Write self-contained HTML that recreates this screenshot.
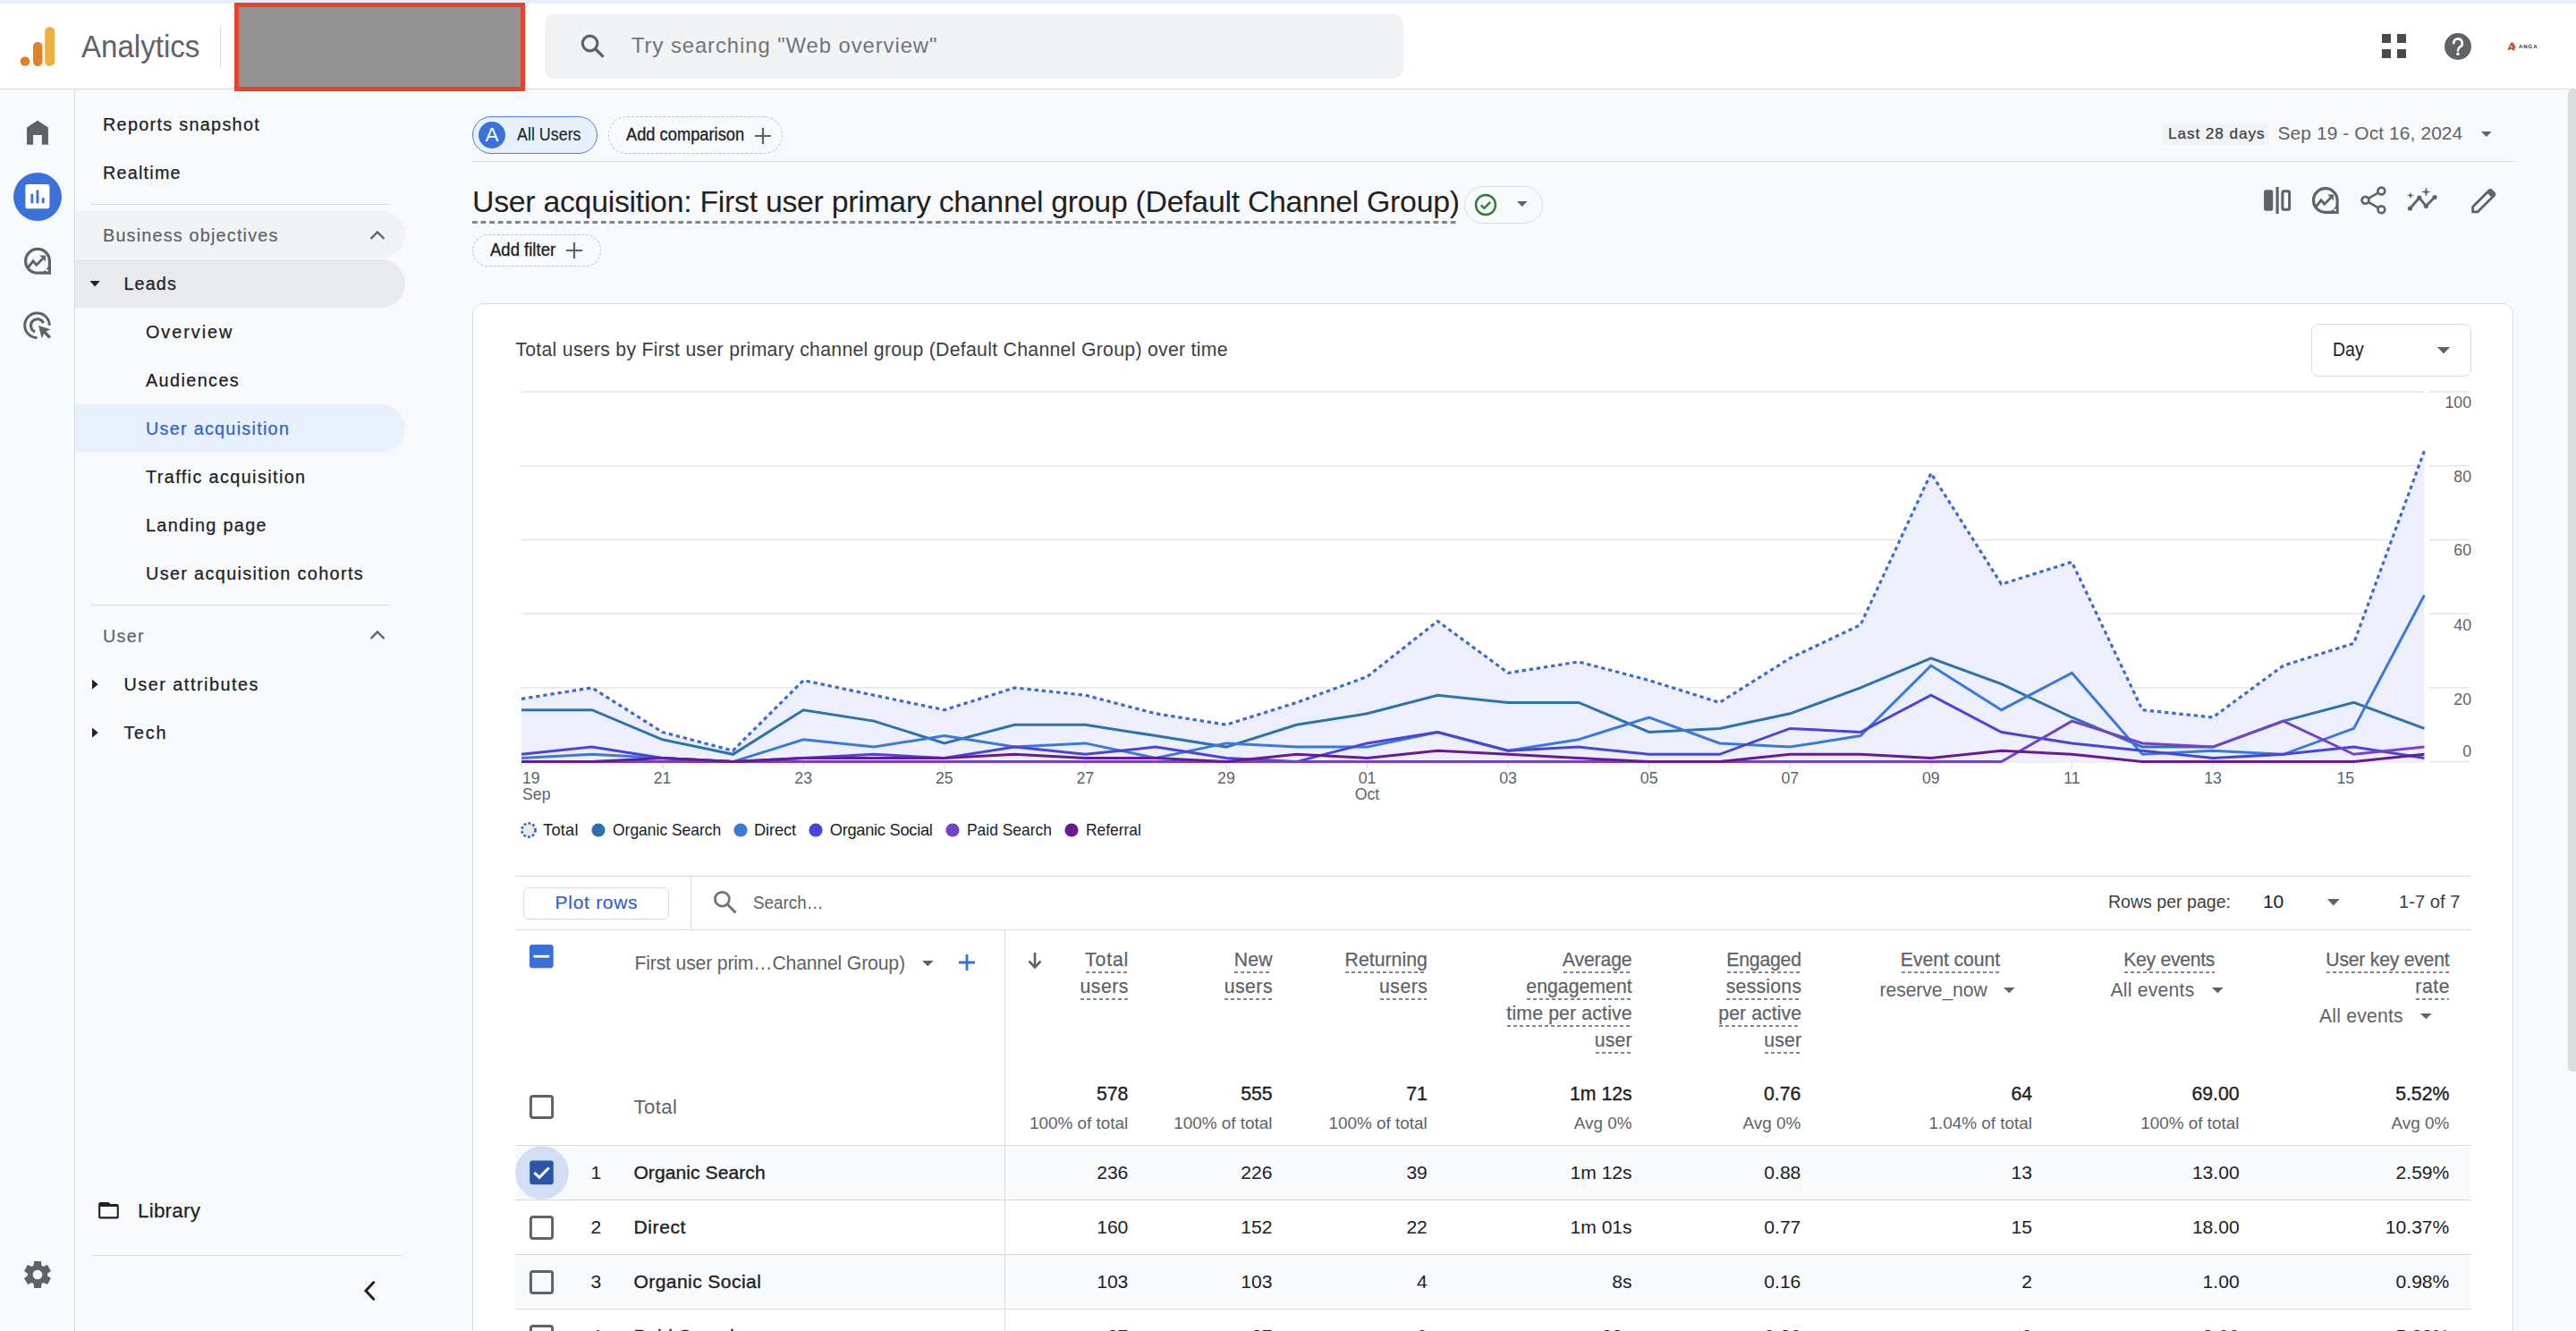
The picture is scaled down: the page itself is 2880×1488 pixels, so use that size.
<!DOCTYPE html>
<html><head><meta charset="utf-8"><title>Analytics</title>
<style>
html,body{margin:0;padding:0;width:2880px;height:1488px;overflow:hidden;background:#f8f9fa;font-family:"Liberation Sans",sans-serif;}
.t{position:absolute;white-space:pre;line-height:1;}
.a{position:absolute;display:block;}
</style></head><body>
<div class="a" style="left:0px;top:0px;width:2880px;height:99px;background:#ffffff;"></div>
<div class="a" style="left:0px;top:0px;width:2880px;height:4px;background:#e8effb;"></div>
<div class="a" style="left:0px;top:99px;width:2880px;height:1px;background:#dadce0;"></div>
<svg class="a" style="left:20px;top:26px;" width="48" height="52" viewBox="0 0 48 52">
<circle cx="8" cy="42.5" r="5.3" fill="#e37f2a"/>
<rect x="17" y="20.7" width="10.4" height="27.2" rx="5.2" fill="#e07f2c"/>
<rect x="30.2" y="3.9" width="10.9" height="44" rx="5.4" fill="#edaf3e"/>
</svg>
<div class="t" style="left:91.00px;top:35.10px;font-size:34.74px;color:#5f6368;transform:scaleX(0.9524);transform-origin:0 0;">Analytics</div>
<div class="a" style="left:246px;top:28px;width:1px;height:48px;background:#dadce0;"></div>
<div class="a" style="left:262px;top:3px;width:325px;height:99px;background:#939393;box-sizing:border-box;border:5.5px solid #e5432c;"></div>
<div class="a" style="left:609px;top:16px;width:960px;height:72px;background:#f1f3f4;border-radius:10px;"></div>
<svg class="a" style="left:646px;top:35px;" width="34" height="34" viewBox="0 0 34 34"><circle cx="13.6" cy="13.5" r="8.3" fill="none" stroke="#5f6368" stroke-width="3.2"/>
<line x1="19.5" y1="19.5" x2="28.6" y2="28.6" stroke="#5f6368" stroke-width="3.4"/></svg>
<div class="t" style="left:706.00px;top:39.10px;font-size:23.84px;color:#70757a;letter-spacing:0.934px;">Try searching "Web overview"</div>
<svg class="a" style="left:2660px;top:35px;opacity:0.97" width="34" height="34" viewBox="0 0 34 34"><rect x="3" y="3" width="10" height="10" fill="#444"/><rect x="20" y="3" width="10" height="10" fill="#444"/>
<rect x="3" y="20" width="10" height="10" fill="#444"/><rect x="20" y="20" width="10" height="10" fill="#444"/></svg>
<svg class="a" style="left:2730px;top:34px;" width="36" height="36" viewBox="0 0 36 36"><circle cx="18" cy="18" r="15" fill="#5f6368"/>
<path d="M13.2 14.3a4.8 4.8 0 1 1 7.2 4.1c-1.6 1-2.4 1.7-2.4 3.6v0.6" fill="none" stroke="#fff" stroke-width="2.6" stroke-linecap="round"/>
<circle cx="18" cy="26.3" r="1.7" fill="#fff"/></svg>
<svg class="a" style="left:2800px;top:42px;" width="42" height="18" viewBox="0 0 42 18"><path fill-rule="evenodd" d="M3.4 13.5 L7.5 5.4 H9.5 L12.7 11 L11 12.3 L12.2 14.3 H9 L8 12.2 L5.5 14 Z M7.9 8.6 L6.6 11 H9.2Z" fill="#d9442e"/>
<text x="16" y="12" font-family="Liberation Sans" font-weight="700" font-size="6.1" fill="#333" textLength="20.6" lengthAdjust="spacing">ANGA</text></svg>
<div class="a" style="left:83px;top:100px;width:1px;height:1388px;background:#dadce0;"></div>
<svg class="a" style="left:26px;top:130px;" width="32" height="36" viewBox="0 0 32 36"><path d="M4 12.5 L16 4.7 L27.9 12.5 V31.7 H20.8 V21 H11.1 V31.7 H4Z" fill="#5f6368"/></svg>
<svg class="a" style="left:15px;top:193px;" width="54" height="54" viewBox="0 0 54 54"><circle cx="27" cy="27" r="27" fill="#3b72d9"/>
<rect x="13.4" y="12.9" width="27" height="27.3" rx="2.6" fill="#fff"/>
<rect x="19.4" y="23.7" width="2.8" height="10.5" fill="#3b72d9"/>
<rect x="25.5" y="19.5" width="2.9" height="14.7" fill="#3b72d9"/>
<rect x="31.8" y="28.2" width="2.9" height="6" fill="#3b72d9"/></svg>
<svg class="a" style="left:24px;top:274px;" width="36" height="36" viewBox="0 0 36 36"><path d="M18 4.4 A13.4 13.4 0 1 0 18 31.2 H31.4 V17.8 A13.4 13.4 0 0 0 18 4.4Z" fill="none" stroke="#5f6368" stroke-width="3.2"/>
<path d="M31.4 17.8 V31.2 H18 A13.4 13.4 0 0 0 31.4 17.8Z" fill="#5f6368"/>
<path d="M7.6 24.9 L13 17.8 L16.8 22.2 L23.9 15.1" fill="none" stroke="#5f6368" stroke-width="2.8"/>
<path d="M20.2 11.4 H27 V18.2Z" fill="#5f6368"/>
<circle cx="28.4" cy="28.3" r="1.4" fill="#f8f9fa"/></svg>
<svg class="a" style="left:24px;top:346px;" width="36" height="36" viewBox="0 0 36 36"><path d="M17.5 31.5 A13.8 13.8 0 1 1 31.3 17.7" fill="none" stroke="#5f6368" stroke-width="3"/>
<path d="M15.2 24.8 A7.3 7.3 0 1 1 24.5 15.2" fill="none" stroke="#5f6368" stroke-width="3"/>
<path d="M19 18 L32.5 22.2 L27.5 24.6 L33 30.3 L30.6 32.7 L25.1 27.1 L22.6 32.2Z" fill="#5f6368"/></svg>
<svg class="a" style="left:25px;top:1408px;" width="34" height="34" viewBox="0 0 34 34"><g fill="#5f6368"><circle cx="17" cy="17" r="11"/>
<path d="M13.1 2 H20.9 L21.6 8 H12.4Z"/>
<path d="M13.1 2 H20.9 L21.6 8 H12.4Z" transform="rotate(60 17 17)"/>
<path d="M13.1 2 H20.9 L21.6 8 H12.4Z" transform="rotate(120 17 17)"/>
<path d="M13.1 2 H20.9 L21.6 8 H12.4Z" transform="rotate(180 17 17)"/>
<path d="M13.1 2 H20.9 L21.6 8 H12.4Z" transform="rotate(240 17 17)"/>
<path d="M13.1 2 H20.9 L21.6 8 H12.4Z" transform="rotate(300 17 17)"/></g>
<circle cx="17" cy="17" r="5.3" fill="#f8f9fa"/></svg>
<div class="t" style="left:115.00px;top:130.00px;font-size:19.77px;color:#202124;letter-spacing:1.318px;-webkit-text-stroke:0.25px #202124;">Reports snapshot</div>
<div class="t" style="left:115.00px;top:184.20px;font-size:19.77px;color:#202124;letter-spacing:1.227px;-webkit-text-stroke:0.25px #202124;">Realtime</div>
<div class="a" style="left:102px;top:228px;width:333px;height:1px;background:#dadce0;"></div>
<div class="a" style="left:84px;top:236px;width:369px;height:53px;background:#f1f3f4;border-radius:0 27px 27px 0;"></div>
<div class="t" style="left:115.00px;top:253.90px;font-size:19.77px;color:#5f6368;letter-spacing:1.211px;-webkit-text-stroke:0.2px #5f6368;">Business objectives</div>
<svg class="a" style="left:410px;top:254px;" width="24" height="18" viewBox="0 0 24 18"><path d="M4.5 13 L12 5.5 L19.5 13" fill="none" stroke="#5f6368" stroke-width="2.4"/></svg>
<div class="a" style="left:84px;top:290px;width:369px;height:54px;background:#e8eaed;border-radius:0 27px 27px 0;"></div>
<svg class="a" style="left:98px;top:311px;" width="16" height="12" viewBox="0 0 16 12"><path d="M2.5 3 H13.7 L8.1 9.6Z" fill="#202124"/></svg>
<div class="t" style="left:138.50px;top:307.60px;font-size:19.77px;color:#202124;letter-spacing:1.107px;-webkit-text-stroke:0.25px #202124;">Leads</div>
<div class="t" style="left:163.00px;top:361.70px;font-size:19.77px;color:#202124;letter-spacing:1.987px;-webkit-text-stroke:0.25px #202124;">Overview</div>
<div class="t" style="left:163.00px;top:415.70px;font-size:19.77px;color:#202124;letter-spacing:1.422px;-webkit-text-stroke:0.25px #202124;">Audiences</div>
<div class="a" style="left:84px;top:452px;width:369px;height:54px;background:#e8f0fe;border-radius:0 27px 27px 0;"></div>
<div class="t" style="left:163.00px;top:469.80px;font-size:19.77px;color:#2f63cf;letter-spacing:1.284px;-webkit-text-stroke:0.25px #2f63cf;">User acquisition</div>
<div class="t" style="left:163.00px;top:523.70px;font-size:19.77px;color:#202124;letter-spacing:1.410px;-webkit-text-stroke:0.25px #202124;">Traffic acquisition</div>
<div class="t" style="left:163.00px;top:577.70px;font-size:19.77px;color:#202124;letter-spacing:1.334px;-webkit-text-stroke:0.25px #202124;">Landing page</div>
<div class="t" style="left:163.00px;top:631.70px;font-size:19.77px;color:#202124;letter-spacing:1.380px;-webkit-text-stroke:0.25px #202124;">User acquisition cohorts</div>
<div class="a" style="left:102px;top:676px;width:333px;height:1px;background:#dadce0;"></div>
<div class="t" style="left:115.00px;top:702.00px;font-size:19.77px;color:#5f6368;letter-spacing:1.251px;-webkit-text-stroke:0.2px #5f6368;">User</div>
<svg class="a" style="left:410px;top:701px;" width="24" height="18" viewBox="0 0 24 18"><path d="M4.5 13 L12 5.5 L19.5 13" fill="none" stroke="#5f6368" stroke-width="2.4"/></svg>
<svg class="a" style="left:98px;top:757px;" width="16" height="16" viewBox="0 0 16 16"><path d="M5 2.5 V13.7 L11.6 8.1Z" fill="#202124"/></svg>
<div class="t" style="left:138.50px;top:756.10px;font-size:19.77px;color:#202124;letter-spacing:1.525px;-webkit-text-stroke:0.25px #202124;">User attributes</div>
<svg class="a" style="left:98px;top:811px;" width="16" height="16" viewBox="0 0 16 16"><path d="M5 2.5 V13.7 L11.6 8.1Z" fill="#202124"/></svg>
<div class="t" style="left:138.50px;top:809.60px;font-size:19.77px;color:#202124;letter-spacing:1.707px;-webkit-text-stroke:0.25px #202124;">Tech</div>
<svg class="a" style="left:106px;top:1338px;" width="32" height="28" viewBox="0 0 32 28"><path fill-rule="evenodd" d="M6.1 6.1 H15.5 L17.5 8.1 H24.8 Q26.8 8.1 26.8 10.1 V22.5 Q26.8 24.5 24.8 24.5 H6.1 Q4.1 24.5 4.1 22.5 V8.1 Q4.1 6.1 6.1 6.1Z M6.2 10.9 V22.3 H24.7 V10.9Z" fill="#202124"/></svg>
<div class="t" style="left:154.00px;top:1343.00px;font-size:22.38px;color:#202124;letter-spacing:0.239px;-webkit-text-stroke:0.25px #202124;">Library</div>
<div class="a" style="left:103px;top:1403px;width:346px;height:1px;background:#dadce0;"></div>
<svg class="a" style="left:400px;top:1428px;" width="26" height="30" viewBox="0 0 26 30"><path d="M18.5 4.8 L9 15 L18.5 25.2" fill="none" stroke="#202124" stroke-width="3"/></svg>
<div class="a" style="left:528px;top:130px;width:140px;height:42px;background:#e8f0fe;box-sizing:border-box;border:1.5px solid #4a7fe0;border-radius:21px;"></div>
<svg class="a" style="left:535px;top:136px;" width="30" height="30" viewBox="0 0 30 30"><circle cx="15" cy="15" r="15" fill="#3a72d9"/></svg>
<div class="t" style="left:542.48px;top:140.00px;font-size:22.53px;color:#ffffff;">A</div>
<div class="t" style="left:578.00px;top:141.30px;font-size:19.77px;color:#202124;transform:scaleX(0.9051);transform-origin:0 0;-webkit-text-stroke:0.1px #202124;">All Users</div>
<div class="a" style="left:680px;top:130px;width:195px;height:42px;background:transparent;box-sizing:border-box;border:1.5px dashed #bdc1c6;border-radius:21px;"></div>
<div class="t" style="left:700.00px;top:141.30px;font-size:19.77px;color:#202124;transform:scaleX(0.9249);transform-origin:0 0;-webkit-text-stroke:0.3px #202124;">Add comparison</div>
<svg class="a" style="left:842px;top:141px;" width="22" height="22" viewBox="0 0 22 22"><path d="M11 2 V20 M2 11 H20" stroke="#5f6368" stroke-width="2.2"/></svg>
<div class="a" style="left:528px;top:180px;width:2283px;height:1px;background:#dadce0;"></div>
<div class="a" style="left:2417px;top:138px;width:119px;height:23.5px;background:#f1f3f4;border-radius:2px;"></div>
<div class="t" style="left:2424.00px;top:141.00px;font-size:17.15px;color:#3c4043;letter-spacing:0.939px;-webkit-text-stroke:0.25px #3c4043;">Last 28 days</div>
<div class="t" style="left:2546.50px;top:139.00px;font-size:20.93px;color:#5f6368;letter-spacing:0.102px;">Sep 19 - Oct 16, 2024</div>
<svg class="a" style="left:2770px;top:144px;" width="20" height="12" viewBox="0 0 20 12"><path d="M4 3 H15.6 L9.8 9Z" fill="#5f6368"/></svg>
<div class="t" style="left:528.00px;top:208.80px;font-size:33.87px;color:#202124;letter-spacing:-0.293px;">User acquisition: First user primary channel group (Default Channel Group)</div>
<div class="a" style="left:528px;top:247px;width:1102px;height:3px;background:transparent;background-image:linear-gradient(90deg,#80868b 0,#80868b 60%,transparent 60%);background-size:9.6px 3px;"></div>
<div class="a" style="left:1637px;top:208px;width:88px;height:42px;background:transparent;box-sizing:border-box;border:1px solid #dadce0;border-radius:21px;"></div>
<svg class="a" style="left:1647px;top:215px;" width="28" height="28" viewBox="0 0 28 28"><circle cx="14" cy="14" r="11" fill="none" stroke="#2e7d32" stroke-width="2.4"/><path d="M8.8 14.3 L12.4 17.8 L19.2 10.8" fill="none" stroke="#2e7d32" stroke-width="2.4"/></svg>
<svg class="a" style="left:1693px;top:222px;" width="18" height="12" viewBox="0 0 18 12"><path d="M3 3 H14.6 L8.8 9Z" fill="#5f6368"/></svg>
<div class="a" style="left:528px;top:262px;width:144px;height:36px;background:transparent;box-sizing:border-box;border:1.5px dashed #bdc1c6;border-radius:18px;"></div>
<div class="t" style="left:547.60px;top:270.00px;font-size:19.77px;color:#202124;transform:scaleX(0.9371);transform-origin:0 0;-webkit-text-stroke:0.3px #202124;">Add filter</div>
<svg class="a" style="left:631px;top:269px;" width="22" height="22" viewBox="0 0 22 22"><path d="M11 2 V20 M2 11 H20" stroke="#5f6368" stroke-width="2.2"/></svg>
<svg class="a" style="left:2528px;top:206px;" width="38" height="36" viewBox="0 0 38 36"><rect x="3.1" y="6.2" width="10.1" height="23.6" rx="2" fill="#5f6368"/>
<rect x="16.5" y="3" width="3.2" height="30" fill="#5f6368"/>
<rect x="23.9" y="7.7" width="7.7" height="20.6" rx="1.5" fill="none" stroke="#5f6368" stroke-width="3"/></svg>
<svg class="a" style="left:2582px;top:206px;" width="36" height="36" viewBox="0 0 36 36"><path d="M17.8 4.7 A13.3 13.3 0 1 0 17.8 31.3 H31.1 V18 A13.3 13.3 0 0 0 17.8 4.7Z" fill="none" stroke="#5f6368" stroke-width="3.2"/>
<path d="M31.1 18 V31.3 H17.8 A13.3 13.3 0 0 0 31.1 18Z" fill="#5f6368"/>
<path d="M7.6 24.9 L13 17.8 L16.8 22.2 L23.9 15.1" fill="none" stroke="#5f6368" stroke-width="2.8"/>
<path d="M20.2 11.4 H27 V18.2Z" fill="#5f6368"/>
<circle cx="28.6" cy="28.8" r="1.4" fill="#f8f9fa"/></svg>
<svg class="a" style="left:2636px;top:206px;" width="34" height="36" viewBox="0 0 34 36"><circle cx="26.4" cy="7.5" r="3.9" fill="none" stroke="#5f6368" stroke-width="2.7"/>
<circle cx="8.5" cy="17.8" r="3.9" fill="none" stroke="#5f6368" stroke-width="2.7"/>
<circle cx="26.4" cy="28.3" r="3.9" fill="none" stroke="#5f6368" stroke-width="2.7"/>
<path d="M11.8 15.8 L23 9.4 M11.8 19.8 L23 26.4" stroke="#5f6368" stroke-width="2.7"/></svg>
<svg class="a" style="left:2688px;top:206px;" width="40" height="36" viewBox="0 0 40 36"><path d="M6.5 27 L16.8 15.1 L24.4 24.3 L34 14.5" fill="none" stroke="#5f6368" stroke-width="2.8" stroke-linejoin="round"/>
<circle cx="6.5" cy="27" r="2.6" fill="#5f6368"/><circle cx="16.8" cy="15.1" r="2.6" fill="#5f6368"/><circle cx="24.4" cy="24.3" r="2.6" fill="#5f6368"/><circle cx="34" cy="14.5" r="2.6" fill="#5f6368"/>
<path d="M7 8.5 L7.9 11.6 L11 12.5 L7.9 13.4 L7 16.5 L6.1 13.4 L3 12.5 L6.1 11.6Z" fill="#5f6368"/>
<path d="M24.4 3 L25.6 7.4 L30 8.6 L25.6 9.8 L24.4 14.2 L23.2 9.8 L18.8 8.6 L23.2 7.4Z" fill="#5f6368"/></svg>
<svg class="a" style="left:2758px;top:206px;" width="36" height="36" viewBox="0 0 36 36"><path d="M6.6 30.8 V25.2 L24.6 7.2 a2.2 2.2 0 0 1 3.1 0 l2.5 2.5 a2.2 2.2 0 0 1 0 3.1 L12.2 30.8Z" fill="none" stroke="#5f6368" stroke-width="2.8" stroke-linejoin="round"/>
<path d="M22.4 9.4 L28 15 L30.8 12.2 a2 2 0 0 0 0-2.8 L27.6 6.2 a2 2 0 0 0-2.8 0Z" fill="#5f6368"/></svg>
<div class="a" style="left:2870.5px;top:100px;width:12px;height:1098px;background:#dadce0;border-radius:5px;"></div>
<div class="a" style="left:528px;top:339px;width:2282px;height:1200px;background:#ffffff;box-sizing:border-box;border:1px solid #dadce0;border-radius:12px;"></div>
<div class="t" style="left:576.30px;top:380.00px;font-size:21.22px;color:#3c4043;letter-spacing:0.298px;">Total users by First user primary channel group (Default Channel Group) over time</div>
<div class="a" style="left:2583.5px;top:361.5px;width:179px;height:59px;background:#ffffff;box-sizing:border-box;border:1px solid #dadce0;border-radius:8px;"></div>
<div class="t" style="left:2607.70px;top:380.00px;font-size:21.22px;color:#202124;transform:scaleX(0.9188);transform-origin:0 0;">Day</div>
<svg class="a" style="left:2721px;top:384px;" width="22" height="16" viewBox="0 0 22 16"><path d="M4 4 H18 L11 11.5Z" fill="#5f6368"/></svg>
<svg class="a" style="left:0;top:0" width="2880" height="1000" viewBox="0 0 2880 1000"><rect x="583" y="850.85" width="2127.4" height="1.5" fill="#e3e4e6"/><rect x="2716" y="850.85" width="45" height="1.5" fill="#e3e4e6"/><rect x="583" y="768.13" width="2127.4" height="1.5" fill="#e3e4e6"/><rect x="2716" y="768.13" width="45" height="1.5" fill="#e3e4e6"/><rect x="583" y="685.41" width="2127.4" height="1.5" fill="#e3e4e6"/><rect x="2716" y="685.41" width="45" height="1.5" fill="#e3e4e6"/><rect x="583" y="602.69" width="2127.4" height="1.5" fill="#e3e4e6"/><rect x="2716" y="602.69" width="45" height="1.5" fill="#e3e4e6"/><rect x="583" y="519.97" width="2127.4" height="1.5" fill="#e3e4e6"/><rect x="2716" y="519.97" width="45" height="1.5" fill="#e3e4e6"/><rect x="583" y="437.25" width="2127.4" height="1.5" fill="#e3e4e6"/><rect x="2716" y="437.25" width="45" height="1.5" fill="#e3e4e6"/><rect x="582.40" y="852.4" width="1.2" height="7" fill="#dadce0"/><rect x="739.99" y="852.4" width="1.2" height="7" fill="#dadce0"/><rect x="897.57" y="852.4" width="1.2" height="7" fill="#dadce0"/><rect x="1055.16" y="852.4" width="1.2" height="7" fill="#dadce0"/><rect x="1212.74" y="852.4" width="1.2" height="7" fill="#dadce0"/><rect x="1370.33" y="852.4" width="1.2" height="7" fill="#dadce0"/><rect x="1527.91" y="852.4" width="1.2" height="7" fill="#dadce0"/><rect x="1685.50" y="852.4" width="1.2" height="7" fill="#dadce0"/><rect x="1843.08" y="852.4" width="1.2" height="7" fill="#dadce0"/><rect x="2000.67" y="852.4" width="1.2" height="7" fill="#dadce0"/><rect x="2158.25" y="852.4" width="1.2" height="7" fill="#dadce0"/><rect x="2315.84" y="852.4" width="1.2" height="7" fill="#dadce0"/><rect x="2473.42" y="852.4" width="1.2" height="7" fill="#dadce0"/><rect x="2631.01" y="852.4" width="1.2" height="7" fill="#dadce0"/><polygon points="583.0,851.6 583.0,781.3 661.8,768.9 740.6,818.5 819.4,839.2 898.2,760.6 977.0,777.2 1055.8,793.7 1134.5,768.9 1213.3,777.2 1292.1,797.8 1370.9,810.2 1449.7,785.4 1528.5,756.5 1607.3,694.4 1686.1,752.3 1764.9,739.9 1843.7,760.6 1922.5,785.4 2001.3,735.8 2080.1,698.6 2158.9,529.0 2237.6,653.1 2316.4,628.3 2395.2,793.7 2474.0,802.0 2552.8,744.1 2631.6,719.2 2710.4,504.2 2710.4,851.6" fill="#edf0fc"/><polyline points="583.0,793.7 661.8,793.7 740.6,826.8 819.4,843.3 898.2,793.7 977.0,806.1 1055.8,830.9 1134.5,810.2 1213.3,810.2 1292.1,822.6 1370.9,835.1 1449.7,810.2 1528.5,797.8 1607.3,777.2 1686.1,785.4 1764.9,785.4 1843.7,818.5 1922.5,814.4 2001.3,797.8 2080.1,768.9 2158.9,735.8 2237.6,764.7 2316.4,802.0 2395.2,835.1 2474.0,835.1 2552.8,806.1 2631.6,785.4 2710.4,814.4" fill="none" stroke="#2d72ad" stroke-width="3" stroke-linejoin="miter" stroke-miterlimit="2"/><polyline points="583.0,847.5 661.8,843.3 740.6,847.5 819.4,851.6 898.2,826.8 977.0,835.1 1055.8,822.6 1134.5,835.1 1213.3,830.9 1292.1,847.5 1370.9,830.9 1449.7,835.1 1528.5,835.1 1607.3,818.5 1686.1,839.2 1764.9,826.8 1843.7,802.0 1922.5,830.9 2001.3,835.1 2080.1,822.6 2158.9,744.1 2237.6,793.7 2316.4,752.3 2395.2,843.3 2474.0,839.2 2552.8,843.3 2631.6,814.4 2710.4,665.5" fill="none" stroke="#3979db" stroke-width="3" stroke-linejoin="miter" stroke-miterlimit="2"/><polyline points="583.0,843.3 661.8,835.1 740.6,847.5 819.4,851.6 898.2,847.5 977.0,843.3 1055.8,847.5 1134.5,835.1 1213.3,843.3 1292.1,835.1 1370.9,847.5 1449.7,851.6 1528.5,830.9 1607.3,818.5 1686.1,839.2 1764.9,835.1 1843.7,843.3 1922.5,843.3 2001.3,814.4 2080.1,818.5 2158.9,777.2 2237.6,818.5 2316.4,830.9 2395.2,839.2 2474.0,847.5 2552.8,843.3 2631.6,835.1 2710.4,847.5" fill="none" stroke="#4a42dd" stroke-width="3" stroke-linejoin="miter" stroke-miterlimit="2"/><polyline points="583.0,851.6 661.8,851.6 740.6,851.6 819.4,851.6 898.2,851.6 977.0,851.6 1055.8,851.6 1134.5,851.6 1213.3,851.6 1292.1,851.6 1370.9,851.6 1449.7,851.6 1528.5,851.6 1607.3,851.6 1686.1,851.6 1764.9,851.6 1843.7,851.6 1922.5,851.6 2001.3,851.6 2080.1,851.6 2158.9,851.6 2237.6,851.6 2316.4,806.1 2395.2,830.9 2474.0,835.1 2552.8,806.1 2631.6,843.3 2710.4,835.1" fill="none" stroke="#7342cb" stroke-width="3" stroke-linejoin="miter" stroke-miterlimit="2"/><polyline points="583.0,851.6 661.8,851.6 740.6,847.5 819.4,851.6 898.2,847.5 977.0,847.5 1055.8,847.5 1134.5,843.3 1213.3,847.5 1292.1,847.5 1370.9,851.6 1449.7,843.3 1528.5,847.5 1607.3,839.2 1686.1,843.3 1764.9,847.5 1843.7,851.6 1922.5,851.6 2001.3,843.3 2080.1,843.3 2158.9,847.5 2237.6,839.2 2316.4,843.3 2395.2,851.6 2474.0,851.6 2552.8,851.6 2631.6,851.6 2710.4,843.3" fill="none" stroke="#681a93" stroke-width="3" stroke-linejoin="miter" stroke-miterlimit="2"/><polyline points="583.0,781.3 661.8,768.9 740.6,818.5 819.4,839.2 898.2,760.6 977.0,777.2 1055.8,793.7 1134.5,768.9 1213.3,777.2 1292.1,797.8 1370.9,810.2 1449.7,785.4 1528.5,756.5 1607.3,694.4 1686.1,752.3 1764.9,739.9 1843.7,760.6 1922.5,785.4 2001.3,735.8 2080.1,698.6 2158.9,529.0 2237.6,653.1 2316.4,628.3 2395.2,793.7 2474.0,802.0 2552.8,744.1 2631.6,719.2 2710.4,504.2" fill="none" stroke="#3a6bd3" stroke-width="3.2" stroke-dasharray="4.4 3.8"/></svg>
<div class="t" style="left:2733.45px;top:442.00px;font-size:17.73px;color:#5f6368;">100</div>
<div class="t" style="left:2743.31px;top:525.00px;font-size:17.73px;color:#5f6368;">80</div>
<div class="t" style="left:2743.31px;top:606.80px;font-size:17.73px;color:#5f6368;">60</div>
<div class="t" style="left:2743.31px;top:691.00px;font-size:17.73px;color:#5f6368;">40</div>
<div class="t" style="left:2743.31px;top:773.90px;font-size:17.73px;color:#5f6368;">20</div>
<div class="t" style="left:2753.17px;top:831.50px;font-size:17.73px;color:#5f6368;">0</div>
<div class="t" style="left:584.00px;top:861.70px;font-size:17.73px;color:#5f6368;">19</div>
<div class="t" style="left:730.73px;top:861.70px;font-size:17.73px;color:#5f6368;">21</div>
<div class="t" style="left:888.31px;top:861.70px;font-size:17.73px;color:#5f6368;">23</div>
<div class="t" style="left:1045.90px;top:861.70px;font-size:17.73px;color:#5f6368;">25</div>
<div class="t" style="left:1203.48px;top:861.70px;font-size:17.73px;color:#5f6368;">27</div>
<div class="t" style="left:1361.07px;top:861.70px;font-size:17.73px;color:#5f6368;">29</div>
<div class="t" style="left:1518.65px;top:861.70px;font-size:17.73px;color:#5f6368;">01</div>
<div class="t" style="left:1676.24px;top:861.70px;font-size:17.73px;color:#5f6368;">03</div>
<div class="t" style="left:1833.82px;top:861.70px;font-size:17.73px;color:#5f6368;">05</div>
<div class="t" style="left:1991.41px;top:861.70px;font-size:17.73px;color:#5f6368;">07</div>
<div class="t" style="left:2148.99px;top:861.70px;font-size:17.73px;color:#5f6368;">09</div>
<div class="t" style="left:2307.23px;top:861.70px;font-size:17.73px;color:#5f6368;">11</div>
<div class="t" style="left:2464.16px;top:861.70px;font-size:17.73px;color:#5f6368;">13</div>
<div class="t" style="left:2612.42px;top:861.70px;font-size:17.73px;color:#5f6368;">15</div>
<div class="t" style="left:584.00px;top:879.60px;font-size:17.73px;color:#5f6368;">Sep</div>
<div class="t" style="left:1514.72px;top:879.60px;font-size:17.73px;color:#5f6368;">Oct</div>
<svg class="a" style="left:580px;top:917px;" width="22" height="22" viewBox="0 0 22 22"><circle cx="11" cy="11" r="7.6" fill="#e8eaed" stroke="#3a6bd3" stroke-width="2.6" stroke-dasharray="2.9 2.1"/></svg>
<div class="t" style="left:607.00px;top:918.80px;font-size:18.31px;color:#202124;letter-spacing:0.236px;">Total</div>
<svg class="a" style="left:660px;top:919px;" width="18" height="18" viewBox="0 0 18 18"><circle cx="9" cy="9" r="7.6" fill="#2d72ad"/></svg>
<div class="t" style="left:684.60px;top:918.80px;font-size:18.31px;color:#202124;transform:scaleX(0.9538);transform-origin:0 0;">Organic Search</div>
<svg class="a" style="left:818.7px;top:919px;" width="18" height="18" viewBox="0 0 18 18"><circle cx="9" cy="9" r="7.6" fill="#3979db"/></svg>
<div class="t" style="left:843.00px;top:918.80px;font-size:18.31px;color:#202124;letter-spacing:-0.137px;">Direct</div>
<svg class="a" style="left:902.5px;top:919px;" width="18" height="18" viewBox="0 0 18 18"><circle cx="9" cy="9" r="7.6" fill="#4a42dd"/></svg>
<div class="t" style="left:927.70px;top:918.80px;font-size:18.31px;color:#202124;letter-spacing:-0.291px;">Organic Social</div>
<svg class="a" style="left:1055.7px;top:919px;" width="18" height="18" viewBox="0 0 18 18"><circle cx="9" cy="9" r="7.6" fill="#7342cb"/></svg>
<div class="t" style="left:1080.60px;top:918.80px;font-size:18.31px;color:#202124;transform:scaleX(0.9524);transform-origin:0 0;">Paid Search</div>
<svg class="a" style="left:1189.3px;top:919px;" width="18" height="18" viewBox="0 0 18 18"><circle cx="9" cy="9" r="7.6" fill="#681a93"/></svg>
<div class="t" style="left:1214.20px;top:918.80px;font-size:18.31px;color:#202124;transform:scaleX(0.9487);transform-origin:0 0;">Referral</div>
<div class="a" style="left:576px;top:979px;width:2187px;height:1px;background:#dadce0;"></div>
<div class="a" style="left:576px;top:1039px;width:2187px;height:1px;background:#dadce0;"></div>
<div class="a" style="left:772px;top:979px;width:1px;height:60px;background:#dadce0;"></div>
<div class="a" style="left:585px;top:992px;width:163px;height:36px;background:#ffffff;box-sizing:border-box;border:1px solid #dadce0;border-radius:6px;"></div>
<div class="t" style="left:620.60px;top:998.00px;font-size:21.08px;color:#2f63cf;letter-spacing:0.672px;-webkit-text-stroke:0.2px #2f63cf;">Plot rows</div>
<svg class="a" style="left:794px;top:992px;" width="36" height="36" viewBox="0 0 36 36"><circle cx="13.4" cy="13.2" r="7.9" fill="none" stroke="#70757a" stroke-width="2.8"/><line x1="19" y1="18.8" x2="28.5" y2="28.4" stroke="#70757a" stroke-width="3"/></svg>
<div class="t" style="left:842.30px;top:998.00px;font-size:21.08px;color:#5f6368;transform:scaleX(0.8948);transform-origin:0 0;">Search…</div>
<div class="t" style="left:2357.00px;top:997.30px;font-size:21.08px;color:#3c4043;transform:scaleX(0.9277);transform-origin:0 0;">Rows per page:</div>
<div class="t" style="left:2530.00px;top:997.30px;font-size:21.08px;color:#202124;letter-spacing:-0.188px;">10</div>
<svg class="a" style="left:2598px;top:1001px;" width="22" height="16" viewBox="0 0 22 16"><path d="M4 4 H17.7 L10.85 11.5Z" fill="#5f6368"/></svg>
<div class="t" style="left:2682.40px;top:997.30px;font-size:21.08px;color:#3c4043;transform:scaleX(0.9584);transform-origin:0 0;">1-7 of 7</div>
<svg class="a" style="left:590px;top:1054px;" width="31" height="31" viewBox="0 0 31 31"><rect x="2" y="2" width="26.7" height="26.3" rx="3" fill="#3b6fd8"/><rect x="6.5" y="13.8" width="17.7" height="2.8" fill="#fff"/></svg>
<div class="t" style="left:709.50px;top:1066.00px;font-size:21.22px;color:#5f6368;letter-spacing:-0.182px;">First user prim…Channel Group)</div>
<svg class="a" style="left:1028px;top:1071px;" width="18" height="12" viewBox="0 0 18 12"><path d="M3 3 H15.6 L9.3 9.2Z" fill="#5f6368"/></svg>
<svg class="a" style="left:1068px;top:1063px;" width="26" height="26" viewBox="0 0 26 26"><path d="M13 4 V22 M4 13 H22" stroke="#3b6fd8" stroke-width="2.8"/></svg>
<div class="a" style="left:1123px;top:1039px;width:1px;height:460px;background:#dadce0;"></div>
<svg class="a" style="left:1146px;top:1062px;" width="22" height="24" viewBox="0 0 22 24"><path d="M11 3 V19 M4.5 12.5 L11 19.5 L17.5 12.5" fill="none" stroke="#5f6368" stroke-width="2.6"/></svg>
<div class="t" style="left:1213.06px;top:1062.00px;font-size:21.22px;color:#5f6368;letter-spacing:0.861px;-webkit-text-stroke:0.25px #5f6368;">Total</div>
<div class="a" style="left:1213.7px;top:1085.6px;width:47px;height:2px;background:transparent;background-image:linear-gradient(90deg,#80868b 0,#80868b 57%,transparent 57%);background-size:7px 2px;"></div>
<div class="t" style="left:1207.56px;top:1092.00px;font-size:21.22px;color:#5f6368;letter-spacing:0.471px;-webkit-text-stroke:0.25px #5f6368;">users</div>
<div class="a" style="left:1208.2px;top:1115.6px;width:52.5px;height:2px;background:transparent;background-image:linear-gradient(90deg,#80868b 0,#80868b 57%,transparent 57%);background-size:7px 2px;"></div>
<div class="t" style="left:1379.76px;top:1062.00px;font-size:21.22px;color:#5f6368;letter-spacing:0.160px;-webkit-text-stroke:0.25px #5f6368;">New</div>
<div class="a" style="left:1380.4px;top:1085.6px;width:41.5px;height:2px;background:transparent;background-image:linear-gradient(90deg,#80868b 0,#80868b 57%,transparent 57%);background-size:7px 2px;"></div>
<div class="t" style="left:1368.76px;top:1092.00px;font-size:21.22px;color:#5f6368;letter-spacing:0.471px;-webkit-text-stroke:0.25px #5f6368;">users</div>
<div class="a" style="left:1369.4px;top:1115.6px;width:52.5px;height:2px;background:transparent;background-image:linear-gradient(90deg,#80868b 0,#80868b 57%,transparent 57%);background-size:7px 2px;"></div>
<div class="t" style="left:1503.56px;top:1062.00px;font-size:21.22px;color:#5f6368;letter-spacing:0.032px;-webkit-text-stroke:0.25px #5f6368;">Returning</div>
<div class="a" style="left:1504.2px;top:1085.6px;width:91px;height:2px;background:transparent;background-image:linear-gradient(90deg,#80868b 0,#80868b 57%,transparent 57%);background-size:7px 2px;"></div>
<div class="t" style="left:1542.06px;top:1092.00px;font-size:21.22px;color:#5f6368;letter-spacing:0.471px;-webkit-text-stroke:0.25px #5f6368;">users</div>
<div class="a" style="left:1542.7px;top:1115.6px;width:52.5px;height:2px;background:transparent;background-image:linear-gradient(90deg,#80868b 0,#80868b 57%,transparent 57%);background-size:7px 2px;"></div>
<div class="t" style="left:1746.86px;top:1062.00px;font-size:21.22px;color:#5f6368;letter-spacing:-0.147px;-webkit-text-stroke:0.25px #5f6368;">Average</div>
<div class="a" style="left:1747.5px;top:1085.6px;width:76.5px;height:2px;background:transparent;background-image:linear-gradient(90deg,#80868b 0,#80868b 57%,transparent 57%);background-size:7px 2px;"></div>
<div class="t" style="left:1706.36px;top:1092.00px;font-size:21.22px;color:#5f6368;letter-spacing:0.032px;-webkit-text-stroke:0.25px #5f6368;">engagement</div>
<div class="a" style="left:1707px;top:1115.6px;width:117px;height:2px;background:transparent;background-image:linear-gradient(90deg,#80868b 0,#80868b 57%,transparent 57%);background-size:7px 2px;"></div>
<div class="t" style="left:1684.36px;top:1122.00px;font-size:21.22px;color:#5f6368;letter-spacing:0.163px;-webkit-text-stroke:0.25px #5f6368;">time per active</div>
<div class="a" style="left:1685px;top:1145.6px;width:139px;height:2px;background:transparent;background-image:linear-gradient(90deg,#80868b 0,#80868b 57%,transparent 57%);background-size:7px 2px;"></div>
<div class="t" style="left:1782.86px;top:1152.00px;font-size:21.22px;color:#5f6368;letter-spacing:0.164px;-webkit-text-stroke:0.25px #5f6368;">user</div>
<div class="a" style="left:1783.5px;top:1175.6px;width:40.5px;height:2px;background:transparent;background-image:linear-gradient(90deg,#80868b 0,#80868b 57%,transparent 57%);background-size:7px 2px;"></div>
<div class="t" style="left:1930.26px;top:1062.00px;font-size:21.22px;color:#5f6368;letter-spacing:-0.199px;-webkit-text-stroke:0.25px #5f6368;">Engaged</div>
<div class="a" style="left:1930.9px;top:1085.6px;width:82.5px;height:2px;background:transparent;background-image:linear-gradient(90deg,#80868b 0,#80868b 57%,transparent 57%);background-size:7px 2px;"></div>
<div class="t" style="left:1929.76px;top:1092.00px;font-size:21.22px;color:#5f6368;letter-spacing:0.244px;-webkit-text-stroke:0.25px #5f6368;">sessions</div>
<div class="a" style="left:1930.4px;top:1115.6px;width:83px;height:2px;background:transparent;background-image:linear-gradient(90deg,#80868b 0,#80868b 57%,transparent 57%);background-size:7px 2px;"></div>
<div class="t" style="left:1921.26px;top:1122.00px;font-size:21.22px;color:#5f6368;letter-spacing:0.086px;-webkit-text-stroke:0.25px #5f6368;">per active</div>
<div class="a" style="left:1921.9px;top:1145.6px;width:91.5px;height:2px;background:transparent;background-image:linear-gradient(90deg,#80868b 0,#80868b 57%,transparent 57%);background-size:7px 2px;"></div>
<div class="t" style="left:1972.26px;top:1152.00px;font-size:21.22px;color:#5f6368;letter-spacing:0.164px;-webkit-text-stroke:0.25px #5f6368;">user</div>
<div class="a" style="left:1972.9px;top:1175.6px;width:40.5px;height:2px;background:transparent;background-image:linear-gradient(90deg,#80868b 0,#80868b 57%,transparent 57%);background-size:7px 2px;"></div>
<div class="t" style="left:2124.86px;top:1062.00px;font-size:21.22px;color:#5f6368;letter-spacing:-0.079px;-webkit-text-stroke:0.25px #5f6368;">Event count</div>
<div class="a" style="left:2125.5px;top:1085.6px;width:110px;height:2px;background:transparent;background-image:linear-gradient(90deg,#80868b 0,#80868b 57%,transparent 57%);background-size:7px 2px;"></div>
<div class="t" style="left:2101.60px;top:1095.70px;font-size:21.22px;color:#5f6368;letter-spacing:-0.131px;">reserve_now</div>
<svg class="a" style="left:2237px;top:1101px;" width="18" height="12" viewBox="0 0 18 12"><path d="M3 3 H15.6 L9.3 9.2Z" fill="#5f6368"/></svg>
<div class="t" style="left:2374.26px;top:1062.00px;font-size:21.22px;color:#5f6368;letter-spacing:-0.323px;-webkit-text-stroke:0.25px #5f6368;">Key events</div>
<div class="a" style="left:2374.8999999999996px;top:1085.6px;width:100.8px;height:2px;background:transparent;background-image:linear-gradient(90deg,#80868b 0,#80868b 57%,transparent 57%);background-size:7px 2px;"></div>
<div class="t" style="left:2359.50px;top:1095.70px;font-size:21.22px;color:#5f6368;letter-spacing:0.197px;">All events</div>
<svg class="a" style="left:2470px;top:1101px;" width="18" height="12" viewBox="0 0 18 12"><path d="M3 3 H15.6 L9.3 9.2Z" fill="#5f6368"/></svg>
<div class="t" style="left:2600.36px;top:1062.00px;font-size:21.22px;color:#5f6368;letter-spacing:-0.251px;-webkit-text-stroke:0.25px #5f6368;">User key event</div>
<div class="a" style="left:2601px;top:1085.6px;width:137px;height:2px;background:transparent;background-image:linear-gradient(90deg,#80868b 0,#80868b 57%,transparent 57%);background-size:7px 2px;"></div>
<div class="t" style="left:2700.36px;top:1092.00px;font-size:21.22px;color:#5f6368;letter-spacing:0.565px;-webkit-text-stroke:0.25px #5f6368;">rate</div>
<div class="a" style="left:2701px;top:1115.6px;width:37px;height:2px;background:transparent;background-image:linear-gradient(90deg,#80868b 0,#80868b 57%,transparent 57%);background-size:7px 2px;"></div>
<div class="t" style="left:2592.90px;top:1124.80px;font-size:21.22px;color:#5f6368;letter-spacing:0.197px;">All events</div>
<svg class="a" style="left:2703px;top:1130px;" width="18" height="12" viewBox="0 0 18 12"><path d="M3 3 H15.6 L9.3 9.2Z" fill="#5f6368"/></svg>
<svg class="a" style="left:590px;top:1222px;" width="31" height="31" viewBox="0 0 31 31"><rect x="3.4" y="3.6" width="24.2" height="23.8" rx="2.5" fill="none" stroke="#5f6368" stroke-width="3"/></svg>
<div class="t" style="left:708.40px;top:1227.20px;font-size:22.09px;color:#5f6368;letter-spacing:0.496px;">Total</div>
<div class="t" style="left:1225.93px;top:1212.30px;font-size:21.22px;color:#202124;-webkit-text-stroke:0.35px #202124;">578</div>
<div class="t" style="left:1150.99px;top:1247.30px;font-size:18.9px;color:#5f6368;">100% of total</div>
<div class="t" style="left:1387.13px;top:1212.30px;font-size:21.22px;color:#202124;-webkit-text-stroke:0.35px #202124;">555</div>
<div class="t" style="left:1312.19px;top:1247.30px;font-size:18.9px;color:#5f6368;">100% of total</div>
<div class="t" style="left:1572.23px;top:1212.30px;font-size:21.22px;color:#202124;-webkit-text-stroke:0.35px #202124;">71</div>
<div class="t" style="left:1485.49px;top:1247.30px;font-size:18.9px;color:#5f6368;">100% of total</div>
<div class="t" style="left:1755.04px;top:1212.30px;font-size:21.22px;color:#202124;-webkit-text-stroke:0.35px #202124;">1m 12s</div>
<div class="t" style="left:1759.80px;top:1247.30px;font-size:18.9px;color:#5f6368;">Avg 0%</div>
<div class="t" style="left:1972.02px;top:1212.30px;font-size:21.22px;color:#202124;-webkit-text-stroke:0.35px #202124;">0.76</div>
<div class="t" style="left:1948.50px;top:1247.30px;font-size:18.9px;color:#5f6368;">Avg 0%</div>
<div class="t" style="left:2248.43px;top:1212.30px;font-size:21.22px;color:#202124;-webkit-text-stroke:0.35px #202124;">64</div>
<div class="t" style="left:2156.44px;top:1247.30px;font-size:18.9px;color:#5f6368;">1.04% of total</div>
<div class="t" style="left:2450.53px;top:1212.30px;font-size:21.22px;color:#202124;-webkit-text-stroke:0.35px #202124;">69.00</div>
<div class="t" style="left:2393.29px;top:1247.30px;font-size:18.9px;color:#5f6368;">100% of total</div>
<div class="t" style="left:2678.16px;top:1212.30px;font-size:21.22px;color:#202124;-webkit-text-stroke:0.35px #202124;">5.52%</div>
<div class="t" style="left:2673.50px;top:1247.30px;font-size:18.9px;color:#5f6368;">Avg 0%</div>
<div class="a" style="left:576px;top:1280px;width:2187px;height:1px;background:#dadce0;"></div>
<div class="a" style="left:576px;top:1281px;width:2187px;height:60px;background:#f8f9fa;"></div>
<div class="a" style="left:576px;top:1341px;width:2187px;height:1px;background:#dadce0;"></div>
<svg class="a" style="left:576px;top:1281px;" width="60" height="60" viewBox="0 0 60 60"><circle cx="30" cy="30" r="29.8" fill="#d3ddf3"/><rect x="16.2" y="16.6" width="26.6" height="26.6" rx="3" fill="#2b55a8"/><path d="M21.3 29.8 L27 35.3 L37.7 24.5" fill="none" stroke="#fff" stroke-width="3"/></svg>
<div class="t" style="left:660.60px;top:1300.00px;font-size:21.08px;color:#202124;">1</div>
<div class="t" style="left:708.40px;top:1300.00px;font-size:21.08px;color:#202124;letter-spacing:0.062px;-webkit-text-stroke:0.35px #202124;">Organic Search</div>
<div class="t" style="left:1226.16px;top:1300.00px;font-size:21.08px;color:#202124;">236</div>
<div class="t" style="left:1387.36px;top:1300.00px;font-size:21.08px;color:#202124;">226</div>
<div class="t" style="left:1572.38px;top:1300.00px;font-size:21.08px;color:#202124;">39</div>
<div class="t" style="left:1755.51px;top:1300.00px;font-size:21.08px;color:#202124;">1m 12s</div>
<div class="t" style="left:1972.30px;top:1300.00px;font-size:21.08px;color:#202124;">0.88</div>
<div class="t" style="left:2248.58px;top:1300.00px;font-size:21.08px;color:#202124;">13</div>
<div class="t" style="left:2450.88px;top:1300.00px;font-size:21.08px;color:#202124;">13.00</div>
<div class="t" style="left:2678.55px;top:1300.00px;font-size:21.08px;color:#202124;">2.59%</div>
<div class="a" style="left:576px;top:1402px;width:2187px;height:1px;background:#dadce0;"></div>
<svg class="a" style="left:590px;top:1357px;" width="31" height="31" viewBox="0 0 31 31"><rect x="3.4" y="3.6" width="24.2" height="23.8" rx="2.5" fill="none" stroke="#5f6368" stroke-width="3"/></svg>
<div class="t" style="left:660.60px;top:1361.00px;font-size:21.08px;color:#202124;">2</div>
<div class="t" style="left:708.40px;top:1361.00px;font-size:21.08px;color:#202124;letter-spacing:0.604px;-webkit-text-stroke:0.35px #202124;">Direct</div>
<div class="t" style="left:1226.16px;top:1361.00px;font-size:21.08px;color:#202124;">160</div>
<div class="t" style="left:1387.36px;top:1361.00px;font-size:21.08px;color:#202124;">152</div>
<div class="t" style="left:1572.38px;top:1361.00px;font-size:21.08px;color:#202124;">22</div>
<div class="t" style="left:1755.51px;top:1361.00px;font-size:21.08px;color:#202124;">1m 01s</div>
<div class="t" style="left:1972.30px;top:1361.00px;font-size:21.08px;color:#202124;">0.77</div>
<div class="t" style="left:2248.58px;top:1361.00px;font-size:21.08px;color:#202124;">15</div>
<div class="t" style="left:2450.88px;top:1361.00px;font-size:21.08px;color:#202124;">18.00</div>
<div class="t" style="left:2666.83px;top:1361.00px;font-size:21.08px;color:#202124;">10.37%</div>
<div class="a" style="left:576px;top:1403px;width:2187px;height:60px;background:#f8f9fa;"></div>
<div class="a" style="left:576px;top:1463px;width:2187px;height:1px;background:#dadce0;"></div>
<svg class="a" style="left:590px;top:1418px;" width="31" height="31" viewBox="0 0 31 31"><rect x="3.4" y="3.6" width="24.2" height="23.8" rx="2.5" fill="none" stroke="#5f6368" stroke-width="3"/></svg>
<div class="t" style="left:660.60px;top:1422.00px;font-size:21.08px;color:#202124;">3</div>
<div class="t" style="left:708.40px;top:1422.00px;font-size:21.08px;color:#202124;letter-spacing:0.414px;-webkit-text-stroke:0.35px #202124;">Organic Social</div>
<div class="t" style="left:1226.16px;top:1422.00px;font-size:21.08px;color:#202124;">103</div>
<div class="t" style="left:1387.36px;top:1422.00px;font-size:21.08px;color:#202124;">103</div>
<div class="t" style="left:1584.10px;top:1422.00px;font-size:21.08px;color:#202124;">4</div>
<div class="t" style="left:1802.37px;top:1422.00px;font-size:21.08px;color:#202124;">8s</div>
<div class="t" style="left:1972.30px;top:1422.00px;font-size:21.08px;color:#202124;">0.16</div>
<div class="t" style="left:2260.30px;top:1422.00px;font-size:21.08px;color:#202124;">2</div>
<div class="t" style="left:2462.60px;top:1422.00px;font-size:21.08px;color:#202124;">1.00</div>
<div class="t" style="left:2678.55px;top:1422.00px;font-size:21.08px;color:#202124;">0.98%</div>
<div class="a" style="left:576px;top:1524px;width:2187px;height:1px;background:#dadce0;"></div>
<svg class="a" style="left:590px;top:1479px;" width="31" height="31" viewBox="0 0 31 31"><rect x="3.4" y="3.6" width="24.2" height="23.8" rx="2.5" fill="none" stroke="#5f6368" stroke-width="3"/></svg>
<div class="t" style="left:660.60px;top:1483.00px;font-size:21.08px;color:#202124;">4</div>
<div class="t" style="left:708.40px;top:1483.00px;font-size:21.08px;color:#202124;letter-spacing:0.442px;-webkit-text-stroke:0.35px #202124;">Paid Search</div>
<div class="t" style="left:1237.88px;top:1483.00px;font-size:21.08px;color:#202124;">27</div>
<div class="t" style="left:1399.08px;top:1483.00px;font-size:21.08px;color:#202124;">27</div>
<div class="t" style="left:1584.10px;top:1483.00px;font-size:21.08px;color:#202124;">0</div>
<div class="t" style="left:1790.65px;top:1483.00px;font-size:21.08px;color:#202124;">33s</div>
<div class="t" style="left:1972.30px;top:1483.00px;font-size:21.08px;color:#202124;">0.26</div>
<div class="t" style="left:2260.30px;top:1483.00px;font-size:21.08px;color:#202124;">0</div>
<div class="t" style="left:2462.60px;top:1483.00px;font-size:21.08px;color:#202124;">3.00</div>
<div class="t" style="left:2678.55px;top:1483.00px;font-size:21.08px;color:#202124;">5.88%</div>
<div class="a" style="left:1123px;top:1039px;width:1px;height:460px;background:#dadce0;"></div>
</body></html>
